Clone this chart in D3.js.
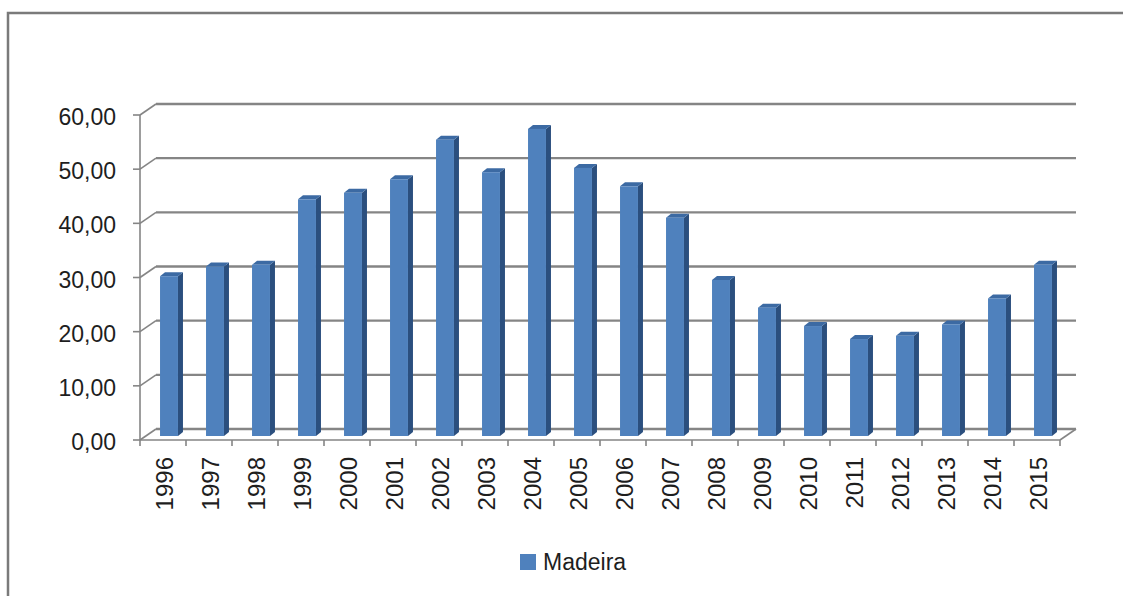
<!DOCTYPE html>
<html><head><meta charset="utf-8">
<script src="https://cdn.jsdelivr.net/npm/d3@7"></script>
<style>html,body{margin:0;padding:0;background:#fff;}svg{display:block;}</style>
</head><body>
<svg id="c" width="1123" height="596"></svg>
<script>
const years = ["1996","1997","1998","1999","2000","2001","2002","2003","2004","2005","2006","2007","2008","2009","2010","2011","2012","2013","2014","2015"];
const madeira = [29.5,31.3,31.6,43.7,44.9,47.4,54.7,48.7,56.7,49.5,46.1,40.3,28.8,23.7,20.3,17.9,18.5,20.6,25.4,31.6];
const yTicks = [0,10,20,30,40,50,60];
const seriesName = "Madeira";

const svg = d3.select("#c");
const font = "'Liberation Sans', Arial, sans-serif";
const DX = 16, DY = -11;        // wall depth offset
const FX = 6, FY = -4;          // bar front-face depth offset
const BX = 5, BY = -4;          // bar depth
const x = d3.scaleBand().domain(years).range([140, 1060]).padding(0);
const y = d3.scaleLinear().domain([0, 60]).range([440, 115]);
const bw = x.bandwidth() * 0.39;
const grid = "#858585";
const txt = "#1e1e1e";

// outer border
svg.append("rect").attr("x", 8).attr("y", 13).attr("width", 1130).attr("height", 600)
  .attr("fill", "none").attr("stroke", "#7a7a7a").attr("stroke-width", 2.5);

// back-wall gridlines + side diagonals
const g = svg.append("g");
yTicks.forEach(t => {
  const yf = y(t);
  g.append("line").attr("x1", 140 + DX).attr("x2", 1060 + DX).attr("y1", yf + DY).attr("y2", yf + DY)
    .attr("stroke", grid).attr("stroke-width", 2.3);
  g.append("line").attr("x1", 140).attr("x2", 140 + DX).attr("y1", yf).attr("y2", yf + DY)
    .attr("stroke", grid).attr("stroke-width", 1.6);
  g.append("line").attr("x1", 133).attr("x2", 140).attr("y1", yf).attr("y2", yf)
    .attr("stroke", grid).attr("stroke-width", 1.6);
  svg.append("text").attr("x", 116).attr("y", yf + 2).attr("text-anchor", "end")
    .attr("dominant-baseline", "central").attr("font-family", font).attr("font-size", 23)
    .attr("fill", txt).text(d3.format(".2f")(t).replace(".", ","));
});
// floor front edge & right edge
g.append("line").attr("x1", 140).attr("x2", 1060).attr("y1", y(0)).attr("y2", y(0))
  .attr("stroke", grid).attr("stroke-width", 1.6);
g.append("line").attr("x1", 1060).attr("x2", 1060 + DX).attr("y1", y(0)).attr("y2", y(0) + DY)
  .attr("stroke", grid).attr("stroke-width", 1.6);
// front vertical axis
g.append("line").attr("x1", 140).attr("x2", 140).attr("y1", y(60)).attr("y2", y(0))
  .attr("stroke", grid).attr("stroke-width", 1.6);
// x ticks
d3.range(years.length + 1).forEach(i => {
  const xx = 140 + i * x.bandwidth();
  g.append("line").attr("x1", xx).attr("x2", xx).attr("y1", y(0)).attr("y2", y(0) + 6)
    .attr("stroke", grid).attr("stroke-width", 1.6);
});

// bars
const bars = svg.append("g");
years.forEach((yr, i) => {
  const v = madeira[i];
  const x0 = x(yr) + (x.bandwidth() - bw) / 2 + FX;
  const yt = y(v) + FY, yb = y(0) + FY;
  bars.append("polygon")
    .attr("points", [[x0 + bw, yt], [x0 + bw + BX, yt + BY], [x0 + bw + BX, yb + BY], [x0 + bw, yb]].join(" "))
    .attr("fill", "#2b4f7e");
  bars.append("polygon")
    .attr("points", [[x0, yt], [x0 + BX, yt + BY], [x0 + bw + BX, yt + BY], [x0 + bw, yt]].join(" "))
    .attr("fill", "#3c6aa3");
  bars.append("rect").attr("x", x0).attr("y", yt).attr("width", bw).attr("height", yb - yt)
    .attr("fill", "#4f81bd");
  svg.append("text")
    .attr("transform", `translate(${x(yr) + x.bandwidth() / 2 + 1},457) rotate(-90)`)
    .attr("text-anchor", "end").attr("dominant-baseline", "central")
    .attr("font-family", font).attr("font-size", 24).attr("fill", txt).text(yr);
});

// legend
svg.append("rect").attr("x", 520).attr("y", 554).attr("width", 16).attr("height", 16).attr("fill", "#4f81bd");
svg.append("text").attr("x", 543).attr("y", 570).attr("font-family", font).attr("font-size", 23)
  .attr("fill", txt).text(seriesName);
</script>
</body></html>
